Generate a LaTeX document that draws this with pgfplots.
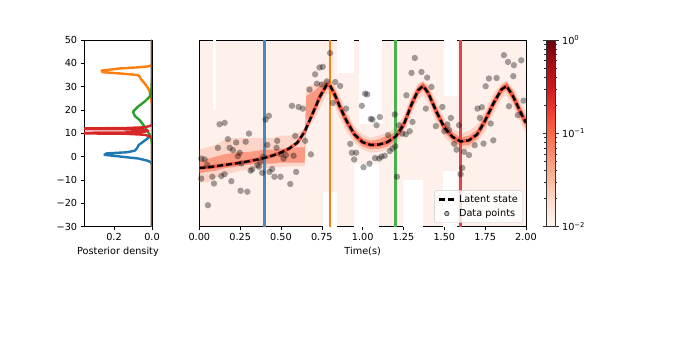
\documentclass[border=0pt]{standalone}
\usepackage{fontspec}
\setmainfont{DejaVu Sans}
\usepackage{pgfplots}
\pgfplotsset{compat=1.18}
\usepackage{pgfplotstable}
\usepgfplotslibrary{fillbetween}

\definecolor{tabblue}{HTML}{1F77B4}
\definecolor{taborange}{HTML}{FF7F0E}
\definecolor{tabgreen}{HTML}{2CA02C}
\definecolor{tabred}{HTML}{D62728}
\definecolor{bgpink}{RGB}{254,240,234}
\definecolor{bandout}{RGB}{252,146,114}
\definecolor{bandmid}{RGB}{251,106,74}
\definecolor{bandin}{RGB}{239,59,44}

\pgfplotsset{
  colormap={reds}{rgb255=(255,245,240) rgb255=(254,224,210) rgb255=(252,187,161)
    rgb255=(252,146,114) rgb255=(251,106,74) rgb255=(239,59,44) rgb255=(203,24,29)
    rgb255=(165,15,21) rgb255=(103,0,13)},
  mpl/.style={
    scale only axis, axis line style={black, line width=0.6pt},
    tick align=outside, tick pos=left, major tick length=3.4pt,
    every tick/.style={black, line width=0.6pt},
    /pgf/number format/assume math mode=true,
    ymin=-30, ymax=50, height=186.7pt,
  },
}

% posterior band around the latent state: t, latent, outer lo/hi, inner lo/hi
\pgfplotstableread{
t v lo1 hi1 lo2 hi2
0.00 -4.8 -11 3 -7 -2
0.05 -4.6 -11 4 -6.5 -1
0.10 -4.1 -9 5 -6 0
0.15 -3.6 -8 7 -5 1
0.20 -3.1 -7 8 -4.5 1.5
0.25 -2.6 -6 8 -4 2
0.30 -2.0 -5.5 8 -3.5 2
0.35 -1.3 -5 8 -3 2.5
0.40 -0.5 -5 8 -3 3
0.45 0.5 -4.5 8 -3 3
0.50 1.8 -4.5 9 -2.5 3.5
0.55 3.5 -4 9 -2.5 3.5
0.60 6 -4 10 -2.5 4
0.645 10.7 -4 12 -2.5 4
0.655 12.3 13 30 16 26
0.70 19.5 15 31 18 28
0.74 26 21 32 24 30.5
0.78 30.8 27 33 29 32.3
0.80 30.5 26.5 33 28.5 32
0.83 26.5 21.5 30.5 23.5 29
0.86 21.5 16.5 26 19 24
0.90 15.5 11 19.5 13 18
0.95 9.5 6 13 7.5 11.5
1.00 6.2 3 9.5 4.3 8
1.05 5.0 1.8 8 3.2 6.8
1.10 5.2 2 9 3.4 7.5
1.15 6.2 3 10.5 4.3 9
1.20 8.5 5 12 6.5 10.5
1.25 13.5 9.5 17.5 11.5 15.5
1.30 22.5 18 26.5 20 25
1.34 28.5 24.5 31.5 26.5 30.5
1.37 30.3 26.5 32.5 28.5 32
1.40 27.5 23 31 25.5 29.5
1.45 19.5 15 24 17 22
1.50 12.5 8.5 16.5 10.5 14.5
1.55 8.5 5 12 6.5 10.5
1.60 6.5 3 10 4.7 8.3
1.65 7 3.5 11 5 9
1.70 9.5 6 13.5 7.5 11.5
1.75 15.5 11 20 13 18
1.80 22.8 18 27 20.5 25
1.85 28.8 25 31.5 27 30.5
1.88 30.3 26.5 32.5 28.5 32
1.92 26 21.5 29.5 23.5 28.5
1.96 20 15.5 24.5 17.5 22.5
2.00 14.5 10 19 12 17
}\band

\pgfplotstableread{
t v
0.012 -0.8
0.033 -1.2
0.012 -9.4
0.053 -20.8
0.049 -3.6
0.080 -8.6
0.090 -11.5
0.124 13.9
0.155 14.5
0.114 3.8
0.135 -8.3
0.155 -7.5
0.175 7.5
0.186 3.8
0.196 -10.5
0.206 2.8
0.226 6.1
0.236 0.2
0.247 1.7
0.257 -2.9
0.253 -14.6
0.294 -15.0
0.284 6.4
0.304 9.9
0.314 -6.0
0.324 -5.4
0.355 -3.6
0.365 -4.3
0.375 -2.2
0.385 -6.9
0.406 15.9
0.426 17.5
0.416 5.0
0.391 0.0
0.430 -6.5
0.446 -5.3
0.460 -8.6
0.477 6.8
0.473 3.8
0.497 -8.6
0.499 1.1
0.516 -0.8
0.530 0.7
0.557 -11.7
0.577 0.4
0.587 8.9
0.593 -6.5
0.567 21.8
0.608 21.3
0.634 20.6
0.648 6.8
0.683 1.0
0.675 28.7
0.709 35.3
0.736 38.2
0.756 38.5
0.720 31.3
0.750 30.9
0.781 32.3
0.801 44.4
0.817 23.0
0.832 32.0
0.862 30.3
0.899 20.6
0.924 5.5
0.934 1.7
0.960 1.7
0.948 -1.2
0.995 21.8
1.005 -4.5
1.015 27.0
1.028 26.7
1.042 -3.0
1.060 15.9
1.105 17.0
1.085 13.5
1.050 16.2
1.076 -0.6
1.101 -0.8
1.115 0.0
1.135 0.4
1.156 9.2
1.166 2.4
1.182 3.5
1.197 18.1
1.200 4.5
1.210 -8.6
1.223 13.5
1.243 9.9
1.264 9.6
1.268 26.3
1.288 10.9
1.305 14.9
1.299 35.9
1.319 42.3
1.360 36.3
1.395 33.9
1.421 29.9
1.387 20.6
1.448 13.1
1.488 21.3
1.500 10.9
1.519 13.8
1.540 16.6
1.529 11.4
1.560 5.5
1.575 3.0
1.590 13.5
1.621 2.1
1.651 0.7
1.610 -4.8
1.600 -7.5
1.686 4.9
1.703 20.6
1.718 16.6
1.730 21.2
1.740 5.6
1.753 30.2
1.773 33.5
1.784 14.2
1.800 7.0
1.820 33.7
1.865 43.5
1.890 40.6
1.896 21.6
1.922 34.5
1.926 39.2
1.971 41.3
1.950 17.8
1.985 24.0
}\obs

\begin{document}
\fontsize{9.7}{11.6}\selectfont
\begin{tikzpicture}
% page frame of the original figure
\path (0,0) rectangle (675pt,339pt);

% posterior densities at four time slices
\begin{axis}[mpl, at={(84pt,112.3pt)}, anchor=south west, width=68pt,
  xmin=0, xmax=0.358, x dir=reverse,
  xtick={0,0.2}, xticklabels={0.0,0.2},
  ytick={-30,-20,...,50}, yticklabels={−30,−20,−10,0,10,20,30,40,50},
  xlabel={Posterior density},
  every axis plot/.append style={line width=2.4pt, line join=round}]
\addplot[tabblue] coordinates {(0,-30) (0,-3.5) (0.005,-2.5) (0.02,-1.8) (0.07,-0.8)
  (0.16,0) (0.25,0.8) (0.24,1.4) (0.13,1.9) (0.09,2.6) (0.08,3.5) (0.07,5)
  (0.05,6.2) (0.03,7.4) (0.01,8.7) (0,9.8) (0,50)};
\addplot[taborange] coordinates {(0,-30) (0,22) (0.005,26) (0.015,28.5) (0.03,30.5)
  (0.045,32) (0.058,33.2) (0.065,34.3) (0.075,35) (0.16,35.6) (0.26,36.2)
  (0.265,36.9) (0.17,37.8) (0.07,38.3) (0.02,38.7) (0,39.2) (0,50)};
\addplot[tabgreen] coordinates {(0,-30) (0,5.5) (0.004,7.9) (0.021,10.7) (0.039,12.9)
  (0.065,15.7) (0.09,17.4) (0.1,19.3) (0.085,20.5) (0.074,21.4) (0.039,23.6)
  (0.012,25.7) (0.003,29) (0,34) (0,50)};
\addplot[tabred] coordinates {(0,-30) (0,7.8) (0.01,8.7) (0.04,9.4) (0.15,9.85)
  (0.7,10.1) (0.15,10.35) (0.04,10.7) (0.02,11.05) (0.04,11.4) (0.15,11.75)
  (0.7,12.0) (0.15,12.25) (0.04,12.6) (0.01,13.2) (0,13.8) (0,50)};
\end{axis}

% latent state, posterior and data
\begin{axis}[mpl, at={(199.3pt,112.3pt)}, anchor=south west, width=326.7pt,
  xmin=0, xmax=2,
  xtick={0,0.25,...,2}, xticklabels={0.00,0.25,0.50,0.75,1.00,1.25,1.50,1.75,2.00},
  ytick=\empty, xlabel={Time(s)},
  axis background/.style={fill=bgpink},
  colormap name=reds, colorbar, point meta min=-2, point meta max=0,
  colorbar style={at={(1.0612,1)}, anchor=north west, width=9.3pt, height=186.7pt,
    scale only axis, tick align=outside, major tick length=3.4pt, minor tick length=2pt,
    every tick/.style={black!80, line width=0.6pt}, axis line style={black!80, line width=0.6pt},
    ytick={-2,-1,0},
    yticklabels={10\textsuperscript{−2},10\textsuperscript{−1},10\textsuperscript{0}},
    minor ytick={-1.699,-1.523,-1.398,-1.301,-1.222,-1.155,-1.097,-1.046,
      -0.699,-0.523,-0.398,-0.301,-0.222,-0.155,-0.097,-0.046}},
  legend style={at={(0.9908,0.0214)}, anchor=south east, draw=black!20,
    rounded corners=2pt, fill=white, fill opacity=0.8, text opacity=1,
    inner xsep=3pt, inner ysep=2.5pt, row sep=1.5pt,
    font=\fontsize{9.7}{11.6}\selectfont},
  legend cell align=left, reverse legend]

% gaps in the posterior map
\addplot[fill=white, draw=none, forget plot] coordinates {(0.086,20) (0.105,20) (0.105,50) (0.086,50)} -- cycle;
\addplot[fill=white, draw=none, forget plot] coordinates {(0.76,-30) (0.84,-30) (0.84,-15) (0.76,-15)} -- cycle;
\addplot[fill=white, draw=none, forget plot] coordinates {(0.84,36) (0.95,36) (0.95,50) (0.84,50)} -- cycle;
\addplot[fill=white, draw=none, forget plot] coordinates {(0.95,-30) (1.10,-30) (1.10,-3) (0.95,-3)} -- cycle;
\addplot[fill=white, draw=none, forget plot] coordinates {(0.98,14) (1.12,14) (1.12,50) (0.98,50)} -- cycle;
\addplot[fill=white, draw=none, forget plot] coordinates {(1.25,-30) (1.37,-30) (1.37,-10) (1.25,-10)} -- cycle;
\addplot[fill=white, draw=none, forget plot] coordinates {(1.49,-30) (1.58,-30) (1.58,-6) (1.49,-6)} -- cycle;
\addplot[fill=white, draw=none, forget plot] coordinates {(1.50,26) (1.58,26) (1.58,50) (1.50,50)} -- cycle;

\addplot[draw=none, name path=lo1, forget plot] table[x=t, y=lo1] {\band};
\addplot[draw=none, name path=hi1, forget plot] table[x=t, y=hi1] {\band};
\addplot[draw=none, name path=lo2, forget plot] table[x=t, y=lo2] {\band};
\addplot[draw=none, name path=hi2, forget plot] table[x=t, y=hi2] {\band};
\addplot[bandout, fill opacity=0.28, draw=none, forget plot] fill between[of=hi1 and lo1];
\addplot[bandmid, fill opacity=0.55, draw=none, forget plot] fill between[of=hi2 and lo2];
\addplot[bandin, line width=3.5pt, opacity=0.75, forget plot] table[x=t, y=v] {\band};

\addplot[tabblue!85!white, line width=2.4pt, forget plot] coordinates {(0.4,-30) (0.4,50)};
\addplot[taborange, line width=2.6pt, forget plot] coordinates {(0.801,-30) (0.801,50)};
\addplot[tabgreen!85!white, line width=2.4pt, forget plot] coordinates {(1.2,-30) (1.2,50)};
\addplot[tabred!85!white, line width=2.4pt, forget plot] coordinates {(1.6,-30) (1.6,50)};

\addplot[only marks, mark=*, mark size=3.2pt,
  mark options={draw opacity=0, fill=black, fill opacity=0.36},
  legend image code/.code={\fill[black, fill opacity=0.3] (8pt,0pt) circle (2.3pt);}]
  table[x=t, y=v] {\obs};
\addlegendentry{Data points}
\addplot[black, line width=2.4pt, dash pattern=on 6pt off 3pt,
  legend image code/.code={\draw[black, line width=2.4pt, dash pattern=on 6pt off 3pt] (0pt,0pt) -- (17pt,0pt);}]
  table[x=t, y=v] {\band};
\addlegendentry{Latent state}
\end{axis}
\end{tikzpicture}
\end{document}
